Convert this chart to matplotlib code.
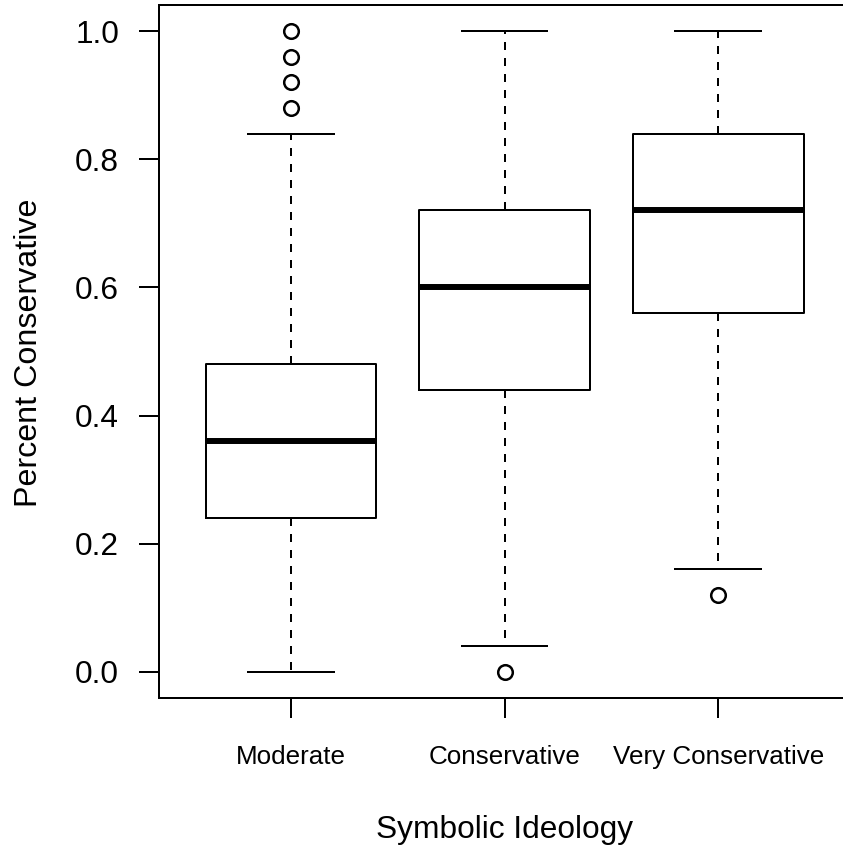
import matplotlib
matplotlib.use("Agg")
import matplotlib.pyplot as plt

categories = ["Moderate", "Conservative", "Very Conservative"]
whislo = [0.00, 0.04, 0.16]
q1 = [0.24, 0.44, 0.56]
med = [0.36, 0.60, 0.72]
q3 = [0.48, 0.72, 0.84]
whishi = [0.84, 1.00, 1.00]
fliers = [[0.88, 0.92, 0.96, 1.00], [0.00], [0.12]]
yticks = [0.0, 0.2, 0.4, 0.6, 0.8, 1.0]

plt.rcParams['font.family'] = ['Liberation Sans', 'DejaVu Sans']

W, H = 843, 857
fig = plt.figure(figsize=(W / 100, H / 100), dpi=100)
ax = fig.add_axes([0.1881, 0.186, 0.8209, 0.8077])

stats = []
for i, c in enumerate(categories):
    stats.append(dict(label=c, whislo=whislo[i], q1=q1[i], med=med[i],
                      q3=q3[i], whishi=whishi[i], fliers=fliers[i]))

lw = 1.44
ax.bxp(stats, positions=[1, 2, 3], widths=0.8, showfliers=True,
       boxprops=dict(color='black', linewidth=lw),
       medianprops=dict(color='black', linewidth=4.3, solid_capstyle='butt'),
       whiskerprops=dict(color='black', linewidth=lw, linestyle=(0, (4, 4))),
       capprops=dict(color='black', linewidth=lw),
       capwidths=0.4,
       flierprops=dict(marker='o', markersize=10.5, markerfacecolor='none',
                       markeredgecolor='black', markeredgewidth=1.8))

ax.set_xlim(0.38, 3.62)
ax.set_ylim(-0.04, 1.04)
ax.set_xticks([1, 2, 3])
ax.set_xticklabels(categories, fontsize=18.7)
ax.set_yticks(yticks)
ax.set_yticklabels([f"{v:.1f}" for v in yticks], fontsize=22.8)
ax.tick_params(axis='both', length=14.4, width=lw, color='black')
ax.tick_params(axis='y', pad=14)
ax.tick_params(axis='x', pad=20)
for s in ax.spines.values():
    s.set_linewidth(lw)
    s.set_color('black')

fig.text(505 / W, (H - 838) / H, "Symbolic Ideology", fontsize=22.8,
         ha='center', va='baseline')
fig.text(37 / W, (H - 353) / H, "Percent Conservative", fontsize=23.2,
         rotation=90, rotation_mode='anchor', ha='center', va='baseline')

fig.savefig("out.png", dpi=100)
